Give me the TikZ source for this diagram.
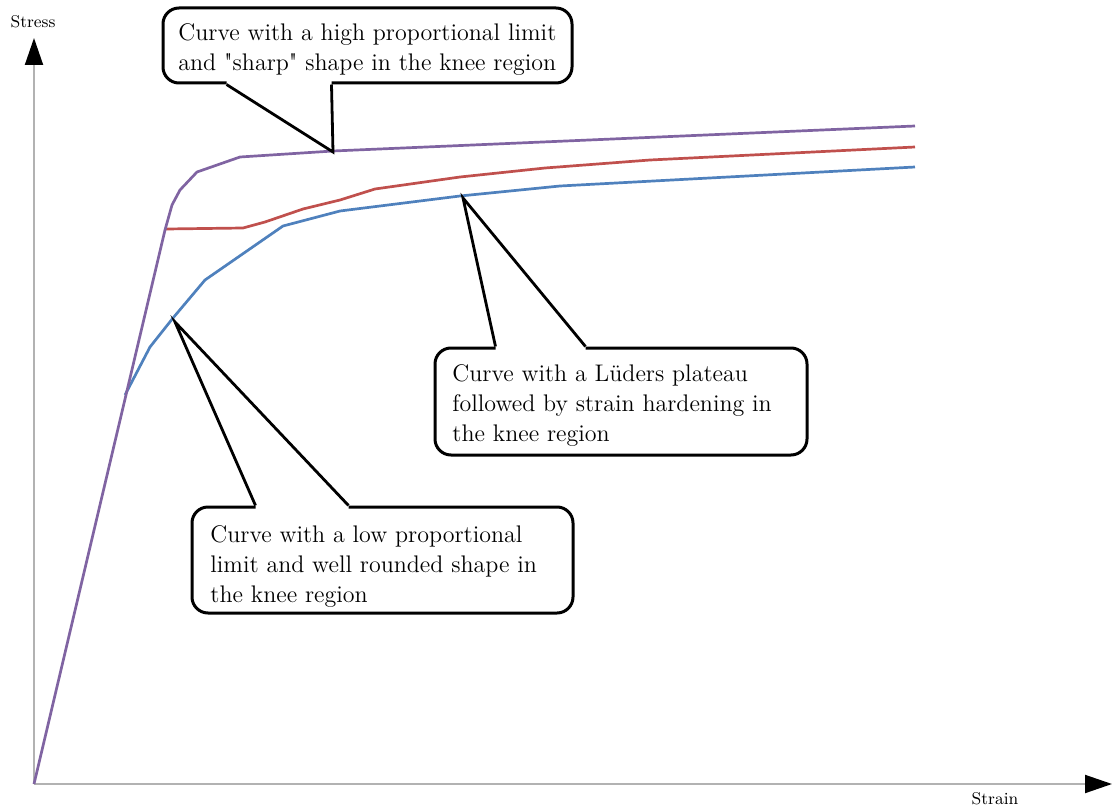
\documentclass[tikz,border=0pt]{standalone}
\usepackage{tikz}
\usetikzlibrary{arrows.meta, calc, fit, positioning}

\definecolor{curvepurple}{HTML}{8064A2}
\definecolor{curvered}{HTML}{C0504D}
\definecolor{curveblue}{HTML}{4F81BD}

\begin{document}
\begin{tikzpicture}[x=0.5pt, y=-0.5pt,
    axis/.style={draw=gray!60, line width=1pt, -{Triangle[length=13.5pt, width=9pt, black]}},
    curve/.style={line width=1.35pt, line join=round},
    callout/.style={draw=black, line width=1.5pt, rounded corners=8pt, fill=white, inner sep=0pt},
    pointer/.style={draw=black, line width=1.4pt},
    calltext/.style={anchor=north west, align=left, inner sep=0pt, font=\fontsize{12}{15}\selectfont},
    axislabel/.style={font=\fontsize{8.5}{10}\selectfont}]
  \useasboundingbox (0,0) rectangle (1113,808);

  % axes
  \coordinate (origin) at (34,784);
  \coordinate (ytip) at (34,38);
  \coordinate (xtip) at (1112,784);
  \draw[axis] (origin) -- (ytip);
  \draw[axis] (origin) -- (xtip);
  \node[axislabel] (stress) at (33,22) {Stress};
  \node[axislabel] (strain) at (995,799) {Strain};

  % the three curves
  \draw[curve, curveblue] (125,395) -- (150,347) -- (173,318) -- (205,280) -- (283,226)
    -- (340,211) -- (460,196) -- (560,186) -- (915,167);
  \draw[curve, curvered] (166,229) -- (243,228) -- (265,222) -- (303,209) -- (340,200)
    -- (375,189) -- (460,177) -- (545,168) -- (650,160) -- (915,147);
  \draw[curve, curvepurple] (origin) -- (165,230) -- (172,205) -- (180,190) -- (197,172)
    -- (240,157) -- (333,151) -- (915,126);

  % callout: high proportional limit
  \node[callout, fit={(163,8) (572,83)}] (highbox) {};
  \coordinate (hightip) at (333,152);
  \coordinate (highl) at ($(highbox.south west)+(65,0)$);
  \coordinate (highr) at ($(highbox.south west)+(170,0)$);
  \fill[white] ($(highl)+(0,-4)$) -- (highl) -- (hightip) -- (highr) -- ($(highr)+(0,-4)$) -- cycle;
  \draw[pointer] (highl) -- (hightip) -- (highr);
  \node[calltext] (hightext) at (178,23)
    {Curve with a high proportional limit\\and \textquotedbl{}sharp\textquotedbl{} shape in the knee region};

  % callout: Lueders plateau
  \node[callout, fit={(435,348) (807,455)}] (ludbox) {};
  \coordinate (ludtip) at (463,198);
  \coordinate (ludl) at ($(ludbox.north west)+(62,0)$);
  \coordinate (ludr) at ($(ludbox.north west)+(152,0)$);
  \fill[white] ($(ludl)+(0,4)$) -- (ludl) -- (ludtip) -- (ludr) -- ($(ludr)+(0,4)$) -- cycle;
  \draw[pointer] (ludl) -- (ludtip) -- (ludr);
  \node[calltext] (ludtext) at (452,364)
    {Curve with a Lüders plateau\\followed by strain hardening in\\the knee region};

  % callout: low proportional limit
  \node[callout, fit={(192,507) (573,613)}] (lowbox) {};
  \coordinate (lowtip) at (175,322);
  \coordinate (lowl) at ($(lowbox.north west)+(65,0)$);
  \coordinate (lowr) at ($(lowbox.north west)+(158,0)$);
  \fill[white] ($(lowl)+(0,4)$) -- (lowl) -- (lowtip) -- (lowr) -- ($(lowr)+(0,4)$) -- cycle;
  \draw[pointer] (lowl) -- (lowtip) -- (lowr);
  \node[calltext] (lowtext) at (210,525)
    {Curve with a low proportional\\limit and well rounded shape in\\the knee region};
\end{tikzpicture}
\end{document}
